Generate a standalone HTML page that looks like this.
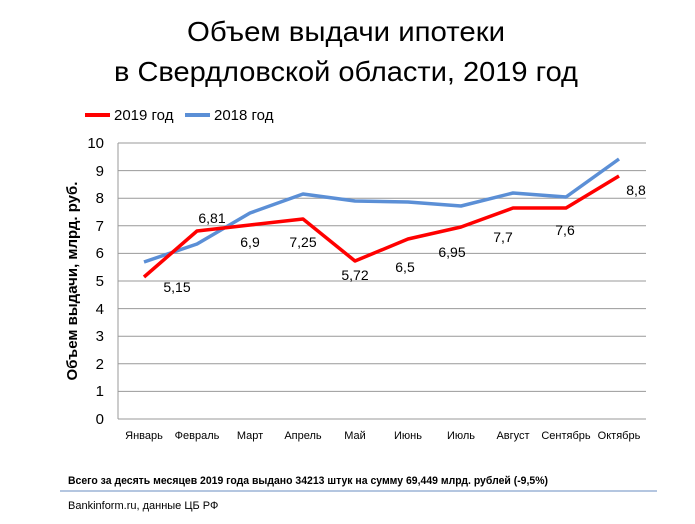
<!DOCTYPE html>
<html><head><meta charset="utf-8"><style>
body{margin:0;background:#fff;}
svg text{font-family:"Liberation Sans","DejaVu Sans",sans-serif;fill:#000;}
</style></head><body>
<svg width="695" height="519" xmlns="http://www.w3.org/2000/svg">
<text x="346" y="41" font-size="28" text-anchor="middle" textLength="318" lengthAdjust="spacingAndGlyphs">Объем выдачи ипотеки</text>
<text x="346" y="81" font-size="28" text-anchor="middle" textLength="464" lengthAdjust="spacingAndGlyphs">в Свердловской области, 2019 год</text>
<line x1="85" y1="115" x2="110" y2="115" stroke="#ff0000" stroke-width="4"/>
<text x="114" y="120" font-size="15">2019 год</text>
<line x1="185" y1="115" x2="210" y2="115" stroke="#5b8fd6" stroke-width="4"/>
<text x="214" y="120" font-size="15">2018 год</text>
<g stroke="#999" stroke-width="1">
<line x1="118" y1="143" x2="646" y2="143"/><line x1="118" y1="170.6" x2="646" y2="170.6"/>
<line x1="118" y1="198.2" x2="646" y2="198.2"/><line x1="118" y1="225.8" x2="646" y2="225.8"/>
<line x1="118" y1="253.4" x2="646" y2="253.4"/><line x1="118" y1="281" x2="646" y2="281"/>
<line x1="118" y1="308.6" x2="646" y2="308.6"/><line x1="118" y1="336.2" x2="646" y2="336.2"/>
<line x1="118" y1="363.8" x2="646" y2="363.8"/><line x1="118" y1="391.4" x2="646" y2="391.4"/>
<line x1="118" y1="419" x2="646" y2="419"/><line x1="118" y1="143" x2="118" y2="419"/>
</g>
<g font-size="15" text-anchor="end">
<text x="104" y="148">10</text><text x="104" y="176">9</text><text x="104" y="203">8</text>
<text x="104" y="231">7</text><text x="104" y="258">6</text><text x="104" y="286">5</text>
<text x="104" y="314">4</text><text x="104" y="341">3</text><text x="104" y="369">2</text>
<text x="104" y="396">1</text><text x="104" y="424">0</text>
</g>
<text transform="translate(77,281) rotate(-90)" font-size="15" font-weight="bold" text-anchor="middle">Объем выдачи, млрд. руб.</text>
<g font-size="11" text-anchor="middle">
<text x="144" y="439">Январь</text><text x="197" y="439">Февраль</text><text x="250" y="439">Март</text>
<text x="303" y="439">Апрель</text><text x="355" y="439">Май</text><text x="408" y="439">Июнь</text>
<text x="461" y="439">Июль</text><text x="513" y="439">Август</text><text x="566" y="439">Сентябрь</text>
<text x="619" y="439">Октябрь</text>
</g>
<polyline fill="none" stroke="#5b8fd6" stroke-width="3.5" stroke-linejoin="round" points="144,262 197,244 250,213 303,194 355,201 408,202 461,206 513,193 566,197 619,159"/>
<polyline fill="none" stroke="#ff0000" stroke-width="3.5" stroke-linejoin="round" points="144,277 197,231 250,225 303,219 355,261 408,239 461,227 513,208 566,208 619,176"/>
<g font-size="14" text-anchor="middle">
<text x="177" y="292">5,15</text><text x="212" y="223">6,81</text><text x="250" y="247">6,9</text>
<text x="303" y="247">7,25</text><text x="355" y="280">5,72</text><text x="405" y="272">6,5</text>
<text x="452" y="257">6,95</text><text x="503" y="242">7,7</text><text x="565" y="235">7,6</text>
<text x="636" y="195">8,8</text>
</g>
<text x="68" y="484" font-size="11" font-weight="bold" textLength="480" lengthAdjust="spacingAndGlyphs">Всего за десять месяцев 2019 года  выдано 34213 штук на сумму 69,449 млрд.  рублей  (-9,5%)</text>
<line x1="60" y1="491" x2="657" y2="491" stroke="#9bb3d6" stroke-width="1.5"/>
<text x="68" y="509" font-size="11">Bankinform.ru,  данные ЦБ РФ</text>
</svg>
</body></html>
